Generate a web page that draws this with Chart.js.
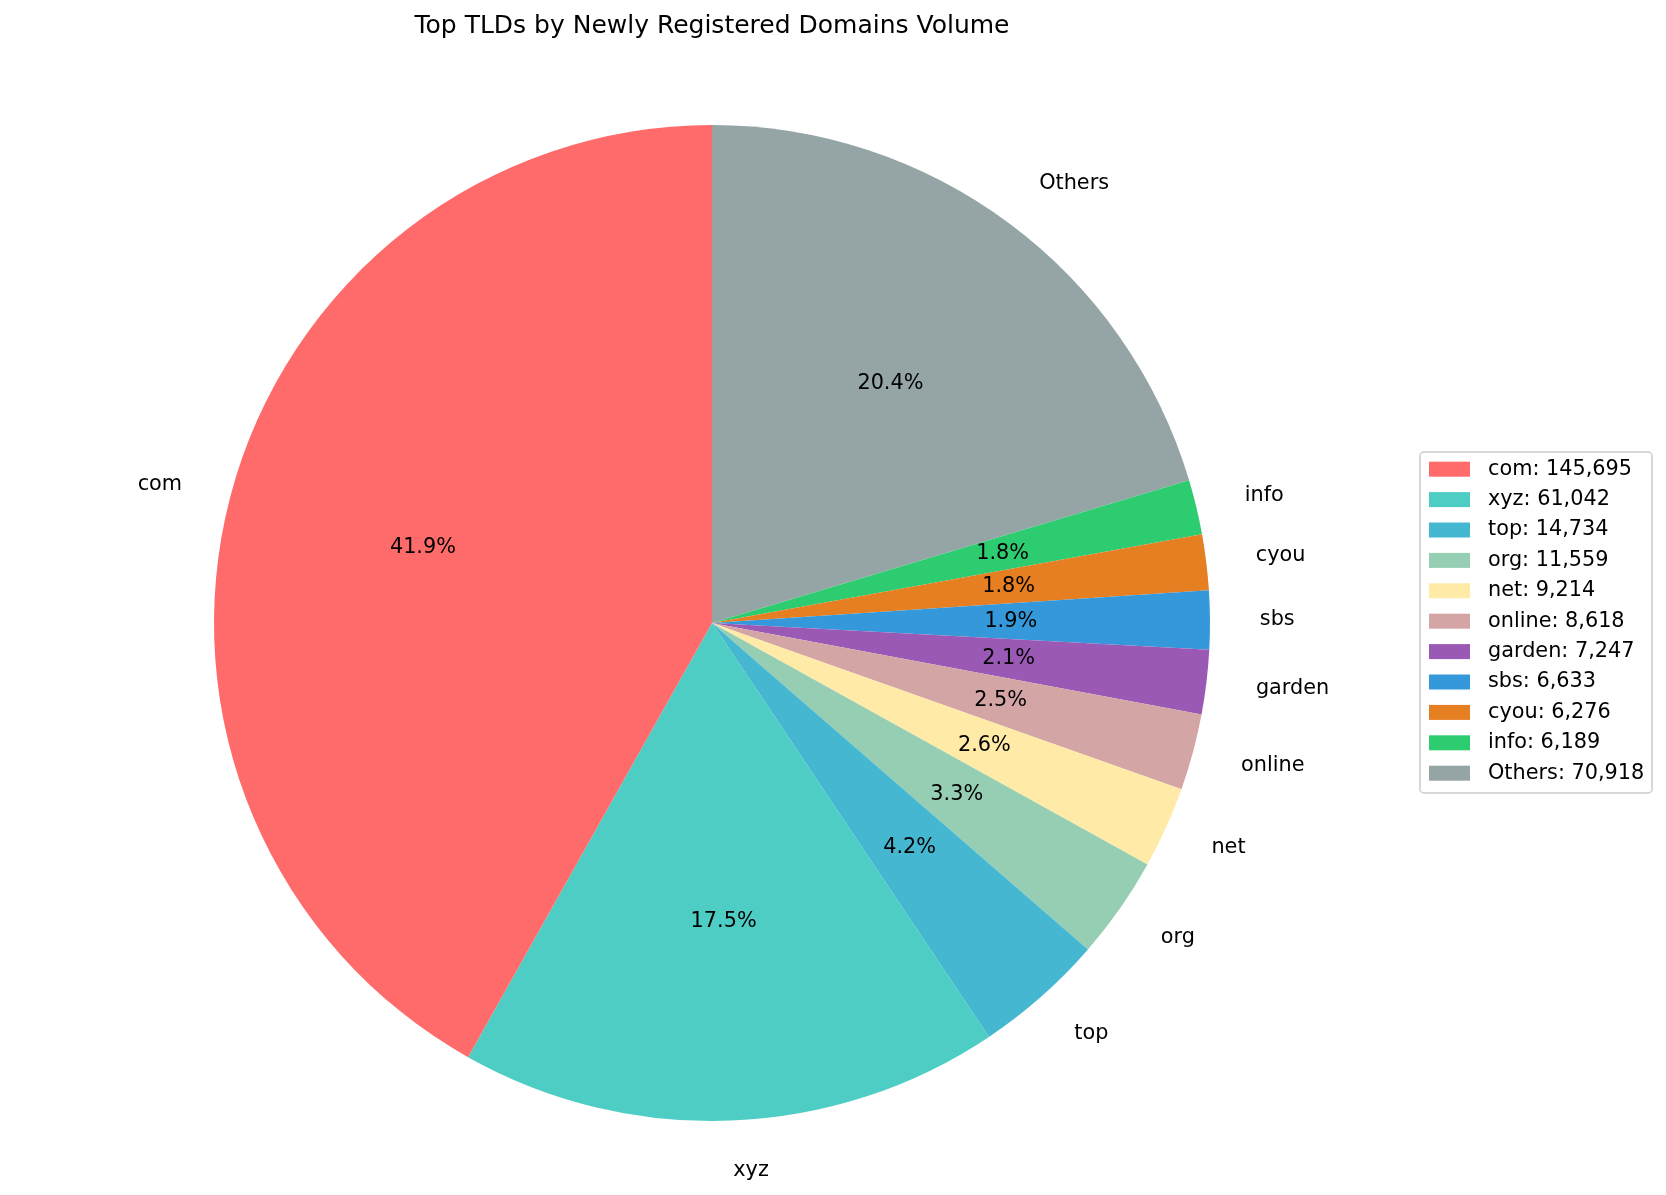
<!DOCTYPE html>
<html>
<head>
<meta charset="utf-8">
<script src="https://cdn.jsdelivr.net/npm/chart.js@4.4.0/dist/chart.umd.min.js"></script>
<style>
  html, body { margin: 0; padding: 0; background: #fff; }
  #wrap { width: 1666px; height: 1195px; }
</style>
</head>
<body>
<div id="wrap"><canvas id="tldChart" width="1666" height="1195"></canvas></div>
<script>
const chartTitle = "Top TLDs by Newly Registered Domains Volume";
const tlds = ["com", "xyz", "top", "org", "net", "online", "garden", "sbs", "cyou", "info", "Others"];
const volumes = [145695, 61042, 14734, 11559, 9214, 8618, 7247, 6633, 6276, 6189, 70918];
const sliceColors = ["#FF6B6B", "#4ECDC4", "#45B7D1", "#96CEB4", "#FFEAA7", "#D4A5A5",
                     "#9B59B6", "#3498DB", "#E67E22", "#2ECC71", "#95A5A6"];

const FONT = '"DejaVu Sans", sans-serif';

// matplotlib goes counter-clockwise from the top, Chart.js clockwise,
// so feed the slices in reverse order
const revLabels = tlds.slice().reverse();
const revValues = volumes.slice().reverse();
const revColors = sliceColors.slice().reverse();

const pieText = {
    id: "pieText",
    afterDraw(chart) {
        const ctx = chart.ctx;
        const meta = chart.getDatasetMeta(0);
        const values = chart.data.datasets[0].data;
        const total = values.reduce((a, b) => a + b, 0);

        ctx.save();
        ctx.fillStyle = "#000";
        ctx.textBaseline = "middle";

        // title
        ctx.font = "25px " + FONT;
        ctx.textAlign = "center";
        ctx.fillText(chartTitle, 712, 26);

        // outer labels + percentages
        ctx.font = "20.8px " + FONT;
        meta.data.forEach((arc, i) => {
            const mid = (arc.startAngle + arc.endAngle) / 2;
            const r = arc.outerRadius;
            const lx = arc.x + Math.cos(mid) * r * 1.1;
            const ly = arc.y + Math.sin(mid) * r * 1.1;
            ctx.textAlign = Math.cos(mid) >= 0 ? "left" : "right";
            ctx.fillText(chart.data.labels[i], lx, ly);

            const px = arc.x + Math.cos(mid) * r * 0.6;
            const py = arc.y + Math.sin(mid) * r * 0.6;
            ctx.textAlign = "center";
            ctx.fillText((values[i] / total * 100).toFixed(1) + "%", px, py);
        });

        // legend box
        const bx = 1420, by = 452, bw = 232, bh = 341, rad = 4;
        ctx.beginPath();
        ctx.moveTo(bx + rad, by);
        ctx.arcTo(bx + bw, by, bx + bw, by + bh, rad);
        ctx.arcTo(bx + bw, by + bh, bx, by + bh, rad);
        ctx.arcTo(bx, by + bh, bx, by, rad);
        ctx.arcTo(bx, by, bx + bw, by, rad);
        ctx.closePath();
        ctx.fillStyle = "rgba(255,255,255,0.8)";
        ctx.fill();
        ctx.strokeStyle = "#cccccc";
        ctx.lineWidth = 1.5;
        ctx.stroke();

        ctx.textAlign = "left";
        tlds.forEach((name, i) => {
            const cy = 469.2 + i * 30.4;
            ctx.fillStyle = sliceColors[i];
            ctx.fillRect(1429, cy - 7.5, 41, 15);
            ctx.fillStyle = "#000";
            ctx.fillText(name + ": " + volumes[i].toLocaleString("en-US"), 1488, cy);
        });
        ctx.restore();
    }
};

new Chart(document.getElementById("tldChart").getContext("2d"), {
    type: "pie",
    data: {
        labels: revLabels,
        datasets: [{
            data: revValues,
            backgroundColor: revColors,
            borderWidth: 0
        }]
    },
    options: {
        responsive: false,
        animation: false,
        layout: {
            padding: { left: 214, right: 456, top: 125, bottom: 74 }
        },
        plugins: {
            legend: { display: false },
            tooltip: { enabled: false }
        }
    },
    plugins: [pieText]
});
</script>
</body>
</html>
